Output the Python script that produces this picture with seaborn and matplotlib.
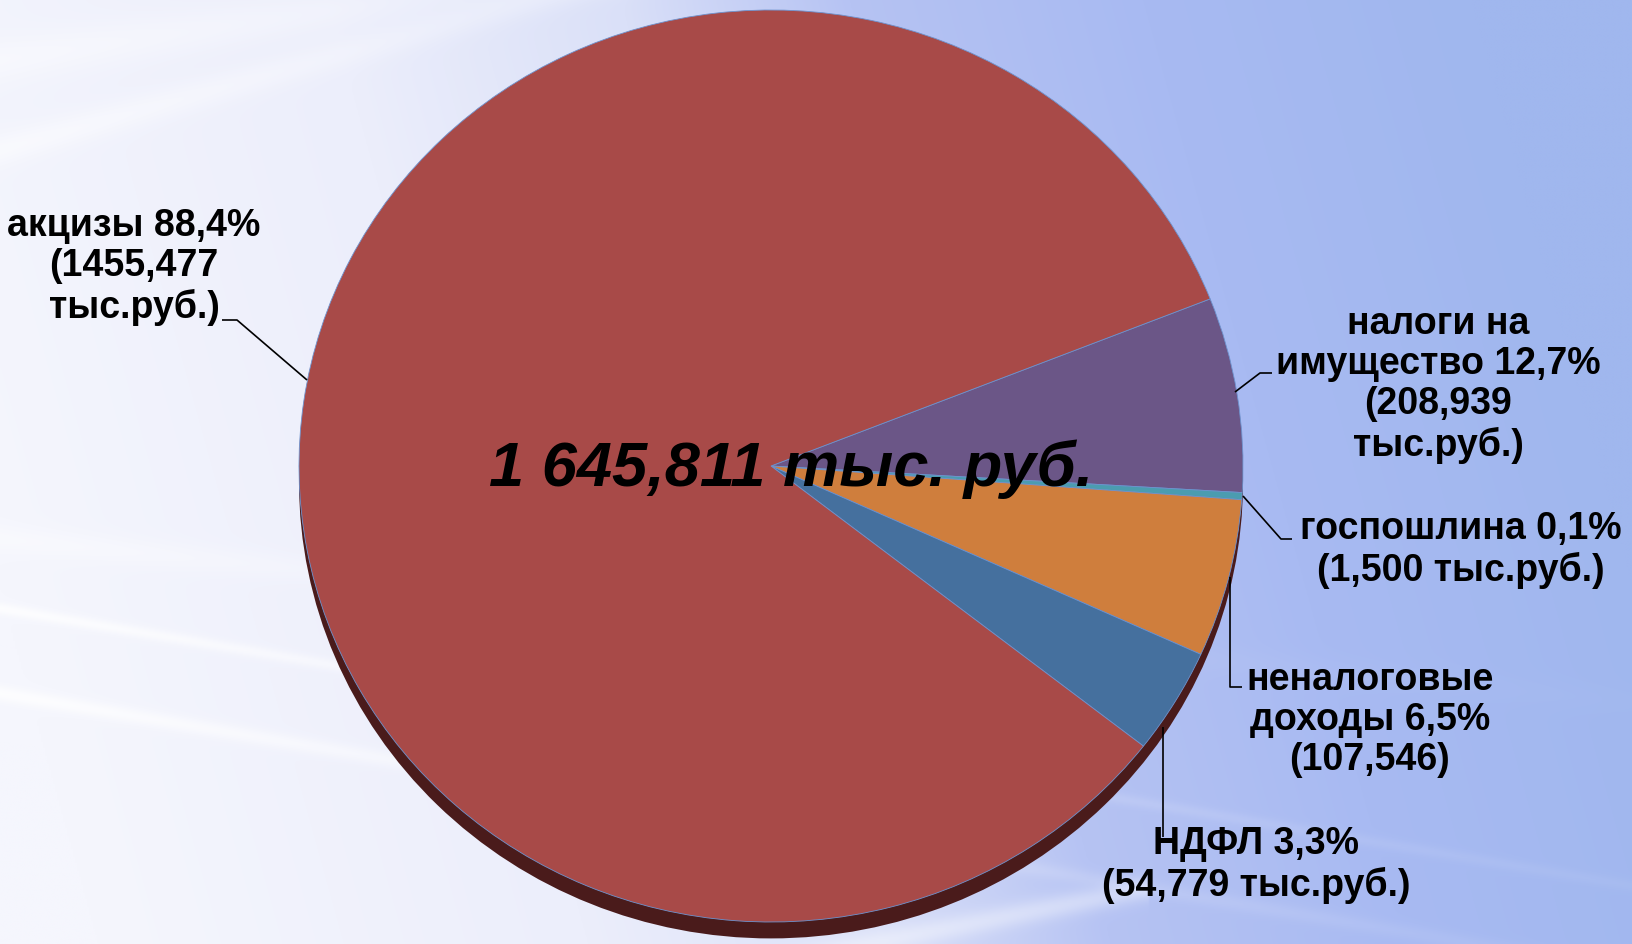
import numpy as np
import matplotlib
matplotlib.use("Agg")
import matplotlib.pyplot as plt
import seaborn as sns
from matplotlib.patches import Ellipse

# ---------------- data ----------------
categories = ["налоги на имущество", "госпошлина", "неналоговые доходы", "НДФЛ", "акцизы"]
# slice shares as drawn in the picture (percent of the circle)
slice_share = [6.9, 0.25, 5.6, 3.75, 83.5]
label_texts = [
    "налоги на\nимущество 12,7%\n(208,939\nтыс.руб.)",
    "госпошлина 0,1%\n(1,500 тыс.руб.)",
    "неналоговые\nдоходы 6,5%\n(107,546)",
    "НДФЛ 3,3%\n(54,779 тыс.руб.)",
    "акцизы 88,4%\n(1455,477\nтыс.руб.)",
]
slice_colors = ["#6B5687", "#4B9CB0", "#CF7E3D", "#45709E", "#A84A48"]
total_text = "1 645,811 тыс. руб."

# ---------------- style ----------------
sns.set_theme(style="white")
plt.rcParams['font.family'] = ['Liberation Sans', 'DejaVu Sans']

W, H = 1633, 945
fig = plt.figure(figsize=(W / 100, H / 100), dpi=100)

# ---------------- background ----------------
bg = fig.add_axes([0, 0, 1, 1])
bg.set_axis_off()
nx, ny = 820, 475
xx, yy = np.meshgrid(np.linspace(0, W, nx), np.linspace(0, H, ny))
t = xx / W + 0.16 * (1 - yy / H) - 0.06
stops_t = [0.0, 0.3, 0.48, 0.62, 0.8, 1.0]
stops_c = np.array([(245, 246, 253), (236, 238, 251), (218, 224, 248),
                    (182, 195, 243), (168, 186, 242), (160, 183, 238)]) / 255.0
img = np.zeros((ny, nx, 3))
for c in range(3):
    img[..., c] = np.interp(t, stops_t, stops_c[:, c])

def streak(y0, slope, width, strength, fade):
    yc = y0 + slope * xx
    d = np.abs(yy - yc)
    return strength * np.exp(-(d / width) ** 2) * np.exp(-xx / fade)

s = np.zeros_like(xx)
s += streak(610, 0.17, 6, 0.8, 600)
s += streak(695, 0.17, 8, 0.8, 600)
s += streak(540, 0.10, 14, 0.4, 500)
s += streak(150, -0.28, 16, 0.5, 600)
s += streak(60, -0.15, 22, 0.4, 800)
s += streak(1120, -0.2, 12, 0.45, 5000) * ((xx > 700) & (xx < 1150))
s = np.clip(s, 0, 1)
img = img + (1 - img) * s[..., None]
bg.imshow(np.clip(img, 0, 1), extent=[0, W, H, 0], aspect='auto', interpolation='bilinear')
bg.set_xlim(0, W)
bg.set_ylim(H, 0)

# ---------------- pie ----------------
cx, cy, rx, ry = 771, 467, 472, 456
ax = fig.add_axes([(cx - rx) / W, 1 - (cy + ry) / H, 2 * rx / W, 2 * ry / H])
ax.set_axis_off()
shadow = Ellipse((0, -0.036), 2, 2, facecolor="#4A1B1B", edgecolor="none", zorder=0)
shadow.set_clip_on(False)
ax.add_patch(shadow)
wedges, _ = ax.pie(slice_share, colors=slice_colors, startangle=21.5, counterclock=False,
                   radius=1, wedgeprops=dict(edgecolor="#6E93CF", linewidth=0.6))
for w in wedges:
    w.set_clip_on(False)
ax.set_aspect('auto')
ax.set_xlim(-1, 1)
ax.set_ylim(-1, 1)

# ---------------- labels overlay ----------------
ov = fig.add_axes([0, 0, 1, 1])
ov.set_axis_off()
ov.patch.set_alpha(0)
ov.set_xlim(0, W)
ov.set_ylim(H, 0)

label_pos = [(1438, 385), (1461, 550), (1370, 720), (1256, 865), (134, 267)]
for txt, (x, y) in zip(label_texts, label_pos):
    ov.text(x, y, txt, fontsize=27, fontweight='bold', ha='center', va='center',
            linespacing=1.15, color='black')

leaders = [
    [(1235, 393), (1260, 374), (1272, 374)],
    [(1243, 497), (1281, 540), (1292, 540)],
    [(1230, 578), (1230, 688), (1242, 688)],
    [(1163, 728), (1163, 838)],
    [(307, 381), (237, 321), (222, 321)],
]
for pts in leaders:
    xs, ys = zip(*pts)
    ov.plot(xs, ys, color='black', lw=1.2, solid_capstyle='butt')

ov.text(791, 469, total_text, fontsize=45.5, fontweight='bold', fontstyle='italic',
        ha='center', va='center', color='black')

fig.savefig("out.png", dpi=100)
